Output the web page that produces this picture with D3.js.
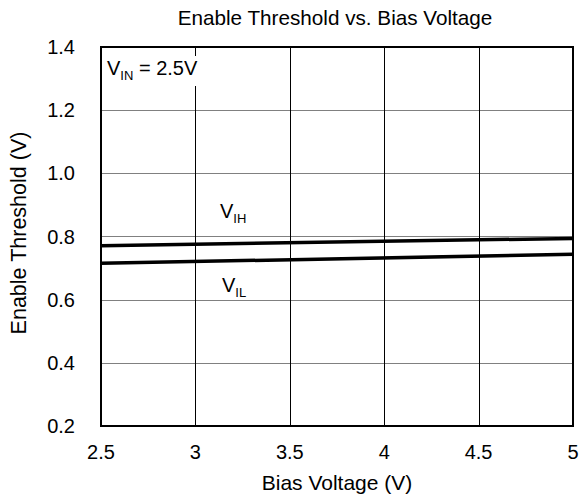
<!DOCTYPE html>
<html>
<head>
<meta charset="utf-8">
<script src="https://cdn.jsdelivr.net/npm/d3@7"></script>
<style>
  body { margin: 0; background: #fff; }
  text { font-family: "Liberation Sans", Arial, sans-serif; fill: #000; }
</style>
</head>
<body>
<div id="chart"></div>
<script>
// data
var biasVoltage = [2.5, 5];
var vihValues = [0.771, 0.794];
var vilValues = [0.715, 0.744];
var xTicks = [2.5, 3, 3.5, 4, 4.5, 5];
var yTicks = [0.2, 0.4, 0.6, 0.8, 1.0, 1.2, 1.4];

var margin = {top: 47, right: 7, bottom: 75, left: 101},
    width = 580 - margin.left - margin.right,
    height = 501 - margin.top - margin.bottom;

var x = d3.scaleLinear().domain([2.5, 5]).range([0, width]);
var y = d3.scaleLinear().domain([0.2, 1.4]).range([height, 0]);

var svg = d3.select("#chart").append("svg")
    .attr("width", 580)
    .attr("height", 501);

var g = svg.append("g")
    .attr("transform", "translate(" + margin.left + "," + margin.top + ")");

// grid
g.selectAll(".hgrid")
    .data(yTicks.slice(1, -1))
  .enter().append("line")
    .attr("x1", 0).attr("x2", width)
    .attr("y1", function(d) { return Math.round(y(d)) + 0.5; })
    .attr("y2", function(d) { return Math.round(y(d)) + 0.5; })
    .style("stroke", "#808080").style("stroke-width", 1);

g.selectAll(".vgrid")
    .data(xTicks.slice(1, -1))
  .enter().append("line")
    .attr("y1", 0).attr("y2", height)
    .attr("x1", function(d) { return Math.round(x(d)) + 0.5; })
    .attr("x2", function(d) { return Math.round(x(d)) + 0.5; })
    .style("stroke", "#000").style("stroke-width", 1);

// white box behind the V_IN note, the grid line stops under it
g.append("rect")
    .attr("x", 2).attr("y", 9)
    .attr("width", 100).attr("height", 30)
    .style("fill", "#fff");

// series
var line = d3.line()
    .x(function(d, i) { return x(biasVoltage[i]); })
    .y(function(d) { return y(d); });

[vihValues, vilValues].forEach(function(s) {
    g.append("path")
        .datum(s)
        .attr("d", line)
        .style("fill", "none")
        .style("stroke", "#000")
        .style("stroke-width", 3.5);
});

// frame
g.append("rect")
    .attr("x", 0).attr("y", 0)
    .attr("width", width).attr("height", height)
    .style("fill", "none")
    .style("stroke", "#000")
    .style("stroke-width", 2);

// tick labels
g.selectAll(".xlab")
    .data(xTicks)
  .enter().append("text")
    .attr("x", function(d) { return x(d); })
    .attr("y", height + 33)
    .style("text-anchor", "middle")
    .style("font-size", "20px")
    .text(function(d) { return d; });

g.selectAll(".ylab")
    .data(yTicks)
  .enter().append("text")
    .attr("x", -26)
    .attr("y", function(d) { return y(d) + 7; })
    .style("text-anchor", "end")
    .style("font-size", "20px")
    .text(function(d) { return d3.format(".1f")(d); });

// titles
svg.append("text")
    .attr("x", 335).attr("y", 25)
    .style("text-anchor", "middle")
    .style("font-size", "20.7px")
    .text("Enable Threshold vs. Bias Voltage");

svg.append("text")
    .attr("x", 337).attr("y", 490)
    .style("text-anchor", "middle")
    .style("font-size", "21px")
    .text("Bias Voltage (V)");

svg.append("text")
    .attr("transform", "translate(26,233) rotate(-90)")
    .style("text-anchor", "middle")
    .style("font-size", "21.5px")
    .text("Enable Threshold (V)");

// annotations
function subLabel(px, py, main, sub, rest) {
    var t = g.append("text")
        .attr("x", px).attr("y", py)
        .style("font-size", "20px");
    t.append("tspan").text(main);
    t.append("tspan").attr("dy", 5).style("font-size", "13px").text(sub);
    if (rest) t.append("tspan").attr("dy", -5).text(rest);
}
subLabel(6, 28, "V", "IN", " = 2.5V");
subLabel(119, 171, "V", "IH");
subLabel(121, 245, "V", "IL");
</script>
</body>
</html>
